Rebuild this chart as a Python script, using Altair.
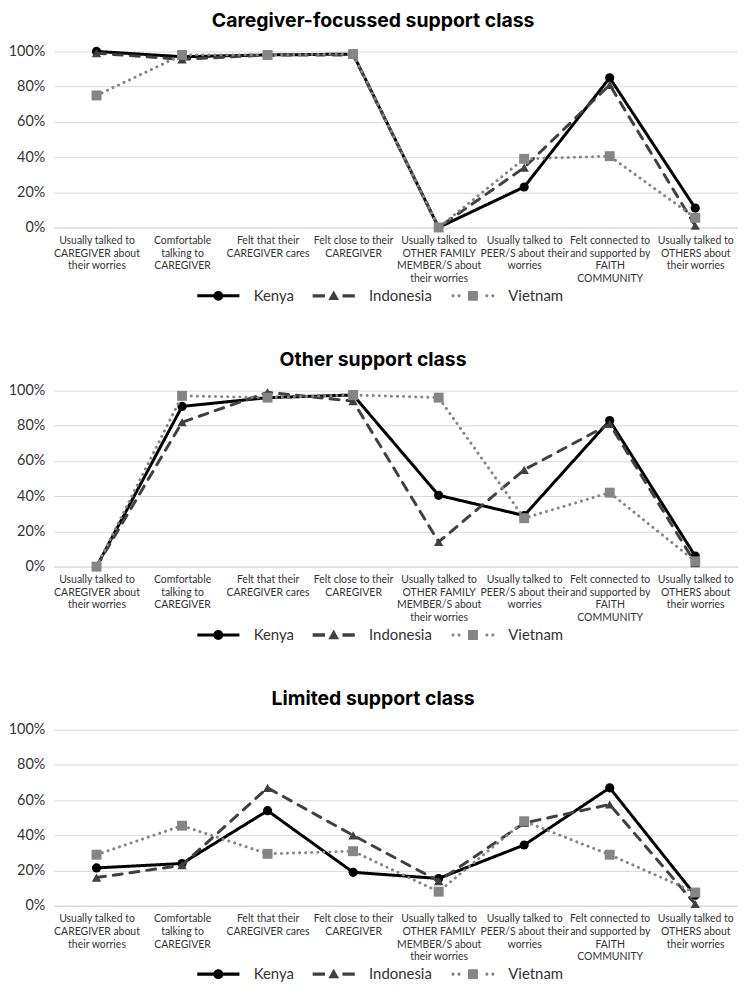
import altair as alt
import pandas as pd

categories = [
    "Usually talked to|CAREGIVER about|their worries",
    "Comfortable|talking to|CAREGIVER",
    "Felt that their|CAREGIVER cares",
    "Felt close to their|CAREGIVER",
    "Usually talked to|OTHER FAMILY|MEMBER/S about|their worries",
    "Usually talked to|PEER/S about their|worries",
    "Felt connected to|and supported by|FAITH|COMMUNITY",
    "Usually talked to|OTHERS about|their worries",
]
countries = ["Kenya", "Indonesia", "Vietnam"]
colors = ["#000000", "#404040", "#858585"]
dashes = [[1, 0], [9, 8], [0.1, 6]]
shapes = ["circle", "triangle-up", "square"]
sizes = [85, 90, 100]

panel_titles = ["Caregiver-focussed support class", "Other support class", "Limited support class"]

caregiver_kenya = [100, 97, 98, 98.5, 0, 23, 85, 11]
caregiver_indonesia = [99, 95.5, 98, 98, 0, 34, 81, 1]
caregiver_vietnam = [75, 98, 98, 98.5, 0, 39, 40.5, 5.5]

other_kenya = [0, 91, 96, 97.5, 40.5, 29, 83, 6]
other_indonesia = [0, 82, 99, 94, 14, 55, 81, 2]
other_vietnam = [0, 97, 96, 97.5, 96, 27.5, 42, 3]

limited_kenya = [21.5, 24, 54, 19, 15.5, 34.5, 67, 6]
limited_indonesia = [16, 23, 67, 40, 14, 47, 57.5, 1]
limited_vietnam = [29, 45.5, 29.5, 31, 8, 48, 29, 7.5]

panel_values = [
    [caregiver_kenya, caregiver_indonesia, caregiver_vietnam],
    [other_kenya, other_indonesia, other_vietnam],
    [limited_kenya, limited_indonesia, limited_vietnam],
]

FONT = "Lato"

# legend glyphs (line + marker) as custom symbol paths (unit box scaled by sqrt(size)/2)
circ = "M-1.25,0A1.25,1.25 0 1,1 1.25,0A1.25,1.25 0 1,1 -1.25,0Z"
path_kenya = "M-5.3,-0.38H5.3V0.38H-5.3Z" + circ
path_indonesia = ("M-5.3,-0.42H-2.2V0.42H-5.3Z" "M2.2,-0.42H5.3V0.42H2.2Z"
                  "M0,-1.35L1.35,1.05L-1.35,1.05Z")


def dot(cx):
    r = 0.4
    return f"M{cx - r},0A{r},{r} 0 1,1 {cx + r},0A{r},{r} 0 1,1 {cx - r},0Z"


path_vietnam = "".join(dot(c) for c in [-5.0, -3.5, 3.5, 5.0]) + "M-1.25,-1.25H1.25V1.25H-1.25Z"
legend_paths = [path_kenya, path_indonesia, path_vietnam]

W = 688
H = 177


def make_legend():
    return alt.Legend(
        title=None,
        orient="none",
        direction="horizontal",
        legendX=158,
        legendY=238,
        symbolSize=64,
        symbolStrokeWidth=0,
        symbolOpacity=1,
        labelOffset=28,
        columnPadding=18,
        labelFontSize=15,
        labelFont=FONT,
        labelColor="#333333",
    )


def panel(title, vals):
    rows = []
    for country, series in zip(countries, vals):
        for cat, v in zip(categories, series):
            rows.append({"category": cat, "country": country, "value": v / 100})
    df = pd.DataFrame(rows)

    x = alt.X(
        "category:N",
        sort=categories,
        title=None,
        axis=alt.Axis(
            labelExpr="split(datum.label, '|')",
            labelAngle=0,
            labelFontSize=10.5,
            labelFont=FONT,
            labelColor="#333333",
            labelLineHeight=12.8,
            labelPadding=8,
            labelLimit=200,
            labelBaseline="top",
            ticks=False,
            domain=True,
            domainColor="#d9d9d9",
            grid=False,
        ),
    )
    y = alt.Y(
        "value:Q",
        title=None,
        scale=alt.Scale(domain=[0, 1]),
        axis=alt.Axis(
            format=".0%",
            values=[0, 0.2, 0.4, 0.6, 0.8, 1.0],
            labelFontSize=14.5,
            labelFont=FONT,
            labelColor="#333333",
            labelPadding=9,
            ticks=False,
            domain=False,
            grid=True,
            gridColor="#d9d9d9",
            gridWidth=1,
        ),
    )

    layers = []
    for c, col, dsh, shp, sz in zip(countries, colors, dashes, shapes, sizes):
        sub = alt.Chart(df).transform_filter(alt.datum.country == c)
        layers.append(
            sub.mark_line(color=col, strokeDash=dsh, strokeWidth=3,
                          strokeCap="round", strokeJoin="round").encode(x=x, y=y)
        )
        layers.append(
            sub.mark_point(shape=shp, filled=True, color=col, size=sz,
                           opacity=1, strokeWidth=0).encode(x=x, y=y)
        )

    legend_layer = alt.Chart(df).transform_filter("false").mark_point(
        filled=True, opacity=1
    ).encode(
        x=x,
        y=y,
        color=alt.Color("country:N", scale=alt.Scale(domain=countries, range=colors),
                        legend=make_legend()),
        shape=alt.Shape("country:N", scale=alt.Scale(domain=countries, range=legend_paths),
                        legend=make_legend()),
    )
    layers.append(legend_layer)

    return alt.layer(*layers).properties(
        width=W,
        height=H,
        title=alt.TitleParams(
            title,
            fontSize=19.5,
            font="Inter",
            fontWeight="bold",
            color="#000000",
            anchor="middle",
            frame="bounds",
            offset=12,
        ),
    )


panels = [panel(t, v) for t, v in zip(panel_titles, panel_values)]

chart = alt.vconcat(*panels, spacing=46).resolve_scale(
    color="independent", shape="independent"
).resolve_legend(color="independent", shape="independent").properties(
    padding=0
).configure_view(stroke=None)

chart.save("out.html", embed_options={"renderer": "svg", "actions": False})
